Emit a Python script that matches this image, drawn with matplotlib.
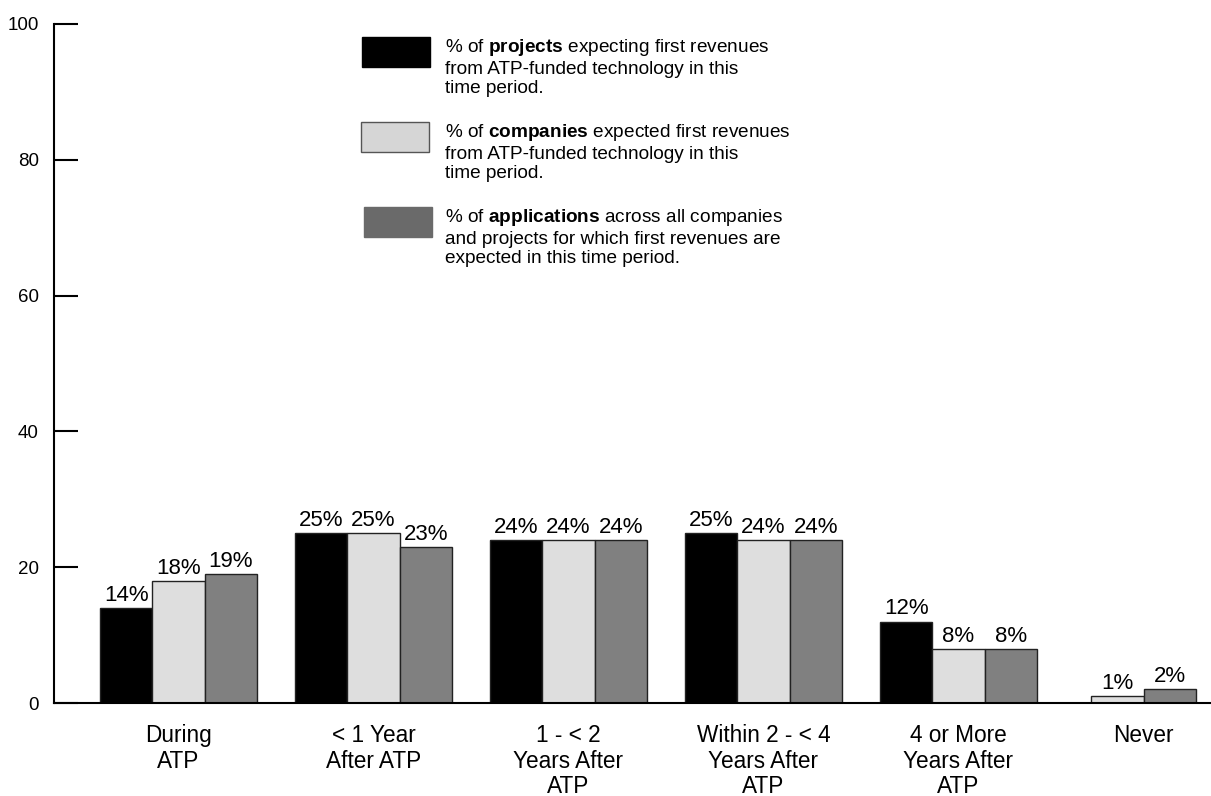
import numpy as np
import matplotlib
matplotlib.use("Agg")
import matplotlib.pyplot as plt
from matplotlib.patches import Rectangle

plt.rcParams["font.family"] = ["Liberation Sans", "DejaVu Sans"]
plt.rcParams["mathtext.fontset"] = "custom"
plt.rcParams["mathtext.rm"] = "Liberation Sans"
plt.rcParams["mathtext.bf"] = "Liberation Sans:bold"

# Time periods for first expected revenues
periods = ["During\nATP", "< 1 Year\nAfter ATP", "1 - < 2\nYears After\nATP",
           "Within 2 - < 4\nYears After\nATP", "4 or More\nYears After\nATP", "Never"]

# Percentages per series (None = no bar)
projects = [14, 25, 24, 25, 12, None]
companies = [18, 25, 24, 24, 8, 1]
applications = [19, 23, 24, 24, 8, 2]

series = [projects, companies, applications]
colors = ["#000000", "#dedede", "#808080"]
legend_colors = ["#000000", "#d6d6d6", "#6a6a6a"]
legend_text = [
    "% of $\\mathbf{projects}$ expecting first revenues\nfrom ATP-funded technology in this\ntime period.",
    "% of $\\mathbf{companies}$ expected first revenues\nfrom ATP-funded technology in this\ntime period.",
    "% of $\\mathbf{applications}$ across all companies\nand projects for which first revenues are\nexpected in this time period.",
]

group_x = [0, 1, 2, 3, 4, 4.95]
width = 0.268

fig = plt.figure(figsize=(12.11, 7.96), dpi=100)
ax = fig.add_axes([54 / 1211, 1 - 703 / 796, 1 - 54 / 1211, 679 / 796])

for g, gx in enumerate(group_x):
    present = [s for s in range(3) if series[s][g] is not None]
    n = len(present)
    for k, s in enumerate(present):
        x = gx + (k - (n - 1) / 2) * width
        val = series[s][g]
        ax.bar(x, val, width=width, color=colors[s], edgecolor="#222222", linewidth=1.0)
        ax.annotate(f"{val}%", (x, val), xytext=(0, 1.5), textcoords="offset points",
                    ha="center", va="bottom", fontsize=16)

ax.set_xlim(-0.638, 5.295)
ax.set_ylim(0, 100)
ax.set_yticks([0, 20, 40, 60, 80, 100])
ax.tick_params(axis="y", direction="in", length=17, width=1.5, labelsize=13.5, pad=11)
ax.set_xticks(group_x)
ax.set_xticklabels(periods, fontsize=16.3, linespacing=1.15)
ax.tick_params(axis="x", length=0, pad=15)
for side in ["top", "right"]:
    ax.spines[side].set_visible(False)
ax.spines["left"].set_linewidth(1.5)
ax.spines["bottom"].set_linewidth(1.5)

# Legend drawn by hand: swatch plus wrapped text with bold keyword
box_tops = [37, 122, 207]
box_lefts = [362, 361, 364]
for i in range(3):
    x0 = box_lefts[i] / 1211
    y0 = 1 - (box_tops[i] + 30) / 796
    edge = "#555555" if i == 1 else legend_colors[i]
    fig.patches.append(Rectangle((x0, y0), 68 / 1211, 30 / 796, transform=fig.transFigure,
                                 facecolor=legend_colors[i], edgecolor=edge, linewidth=1.0))
    fig.text(445 / 1211, 1 - box_tops[i] / 796, legend_text[i], fontsize=13.7,
             va="top", ha="left", linespacing=1.2)

fig.savefig("out.png", dpi=100)
